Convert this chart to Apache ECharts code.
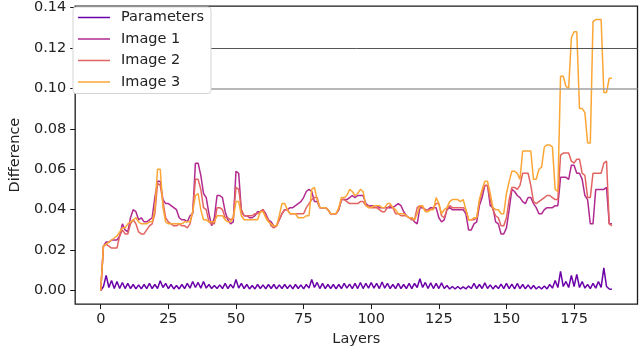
<!DOCTYPE html>
<html>

<head>
    <meta charset="utf-8">
    <script src="https://cdn.jsdelivr.net/npm/echarts@6/dist/echarts.min.js"></script>
    <style>
        body { margin: 0; background: #fff; }
    </style>
</head>

<body>
    <div id="main" style="width: 640px;height:352px;"></div>
    <script type="text/javascript">
        // series names and colours
        var names = ['Parameters', 'Image 1', 'Image 2', 'Image 3'];
        var colors = ['#6a00a8', '#b12a90', '#e16462', '#fca636'];

        // tick labels
        var xTicks = [0, 25, 50, 75, 100, 125, 150, 175];
        var yTicks = [0, 0.02, 0.04, 0.06, 0.08, 0.10, 0.12, 0.14];
        // grey reference lines
        var refLines = [0.12, 0.10];

        // one value per layer, layer 0 .. 189
        var params = [
            0, 0.002, 0.0075, 0.0015, 0.005, 0.001, 0.0045, 0.001, 0.004, 0.001,
            0.0035, 0.001, 0.003, 0.0008, 0.0028, 0.0008, 0.003, 0.001, 0.0035, 0.001,
            0.003, 0.001, 0.0048, 0.0015, 0.0035, 0.001, 0.003, 0.0008, 0.0025, 0.0008,
            0.003, 0.001, 0.0035, 0.0012, 0.0045, 0.0015, 0.004, 0.0012, 0.0045, 0.0012,
            0.003, 0.001, 0.0025, 0.001, 0.0028, 0.001, 0.0035, 0.001, 0.003, 0.0012,
            0.0055, 0.0012, 0.0035, 0.001, 0.003, 0.0008, 0.0025, 0.0008, 0.003, 0.001,
            0.0028, 0.0008, 0.003, 0.001, 0.003, 0.0008, 0.0028, 0.001, 0.003, 0.001,
            0.0028, 0.0008, 0.003, 0.001, 0.0028, 0.0008, 0.003, 0.0012, 0.0055, 0.0015,
            0.004, 0.001, 0.0035, 0.001, 0.003, 0.001, 0.003, 0.0008, 0.003, 0.001,
            0.0035, 0.0012, 0.0032, 0.001, 0.0035, 0.001, 0.004, 0.001, 0.0035, 0.0012,
            0.004, 0.0012, 0.0035, 0.001, 0.0042, 0.0012, 0.0035, 0.001, 0.003, 0.001,
            0.0035, 0.001, 0.003, 0.001, 0.0035, 0.001, 0.0035, 0.0015, 0.0058, 0.0015,
            0.004, 0.001, 0.0038, 0.001, 0.0035, 0.001, 0.0038, 0.001, 0.0025, 0.0008,
            0.002, 0.0008, 0.002, 0.0008, 0.0018, 0.0008, 0.0022, 0.001, 0.0035, 0.001,
            0.003, 0.001, 0.0038, 0.001, 0.0028, 0.0008, 0.0025, 0.001, 0.0032, 0.001,
            0.0035, 0.001, 0.0032, 0.0008, 0.0035, 0.001, 0.003, 0.0008, 0.0028, 0.0008,
            0.0025, 0.0008, 0.002, 0.0008, 0.0022, 0.0008, 0.003, 0.0012, 0.005, 0.0015,
            0.0095, 0.002, 0.0045, 0.0015, 0.0075, 0.002, 0.008, 0.0015, 0.0045, 0.0012,
            0.003, 0.001, 0.0035, 0.0012, 0.0045, 0.0015, 0.0112, 0.002, 0.0008, 0.0006
        ];

        var image1 = [
            0, 0.022, 0.024, 0.024, 0.025, 0.025, 0.025, 0.027, 0.033, 0.030,
            0.029, 0.036, 0.040, 0.039, 0.035, 0.036, 0.034, 0.034, 0.035, 0.036,
            0.046, 0.054, 0.054, 0.045, 0.043, 0.043, 0.042, 0.041, 0.040, 0.036,
            0.035, 0.035, 0.034, 0.037, 0.038, 0.063, 0.063, 0.057, 0.048, 0.046,
            0.038, 0.032, 0.036, 0.047, 0.047, 0.046, 0.039, 0.035, 0.033, 0.034,
            0.059, 0.058, 0.039, 0.037, 0.037, 0.036, 0.036, 0.037, 0.039, 0.039,
            0.040, 0.038, 0.035, 0.034, 0.032, 0.032, 0.035, 0.038, 0.040, 0.040,
            0.041, 0.041, 0.042, 0.043, 0.044, 0.046, 0.049, 0.050, 0.049, 0.044,
            0.044, 0.041, 0.041, 0.041, 0.040, 0.038, 0.038, 0.038, 0.040, 0.045,
            0.045, 0.045, 0.046, 0.047, 0.046, 0.047, 0.047, 0.047, 0.043, 0.042,
            0.042, 0.042, 0.042, 0.041, 0.041, 0.041, 0.041, 0.041, 0.041, 0.042,
            0.043, 0.042, 0.039, 0.037, 0.036, 0.036, 0.034, 0.033, 0.041, 0.041,
            0.040, 0.040, 0.041, 0.041, 0.041, 0.036, 0.034, 0.035, 0.040, 0.041,
            0.040, 0.040, 0.040, 0.040, 0.040, 0.038, 0.030, 0.030, 0.033, 0.034,
            0.042, 0.046, 0.052, 0.052, 0.042, 0.041, 0.034, 0.033, 0.028, 0.028,
            0.031, 0.040, 0.050, 0.049, 0.047, 0.046, 0.044, 0.043, 0.046, 0.046,
            0.043, 0.041, 0.038, 0.038, 0.040, 0.041, 0.041, 0.041, 0.042, 0.042,
            0.056, 0.056, 0.056, 0.055, 0.062, 0.062, 0.058, 0.058, 0.055, 0.047,
            0.045, 0.033, 0.033, 0.050, 0.050, 0.050, 0.050, 0.051, 0.033, 0.033
        ];

        var image2 = [
            0, 0.022, 0.023, 0.022, 0.021, 0.021, 0.021, 0.027, 0.030, 0.028,
            0.028, 0.033, 0.035, 0.033, 0.029, 0.028, 0.028, 0.030, 0.032, 0.033,
            0.038, 0.053, 0.052, 0.044, 0.036, 0.034, 0.033, 0.032, 0.032, 0.033,
            0.032, 0.032, 0.031, 0.033, 0.039, 0.055, 0.055, 0.050, 0.041, 0.040,
            0.034, 0.033, 0.033, 0.041, 0.041, 0.040, 0.036, 0.036, 0.035, 0.036,
            0.051, 0.050, 0.040, 0.037, 0.037, 0.037, 0.037, 0.038, 0.038, 0.039,
            0.040, 0.037, 0.035, 0.032, 0.031, 0.032, 0.035, 0.038, 0.040, 0.040,
            0.038, 0.038, 0.038, 0.038, 0.038, 0.038, 0.041, 0.043, 0.045, 0.046,
            0.046, 0.041, 0.041, 0.041, 0.040, 0.038, 0.038, 0.038, 0.040, 0.045,
            0.045, 0.044, 0.043, 0.043, 0.043, 0.043, 0.044, 0.044, 0.042, 0.042,
            0.041, 0.041, 0.041, 0.040, 0.039, 0.039, 0.041, 0.042, 0.041, 0.038,
            0.038, 0.037, 0.037, 0.037, 0.036, 0.035, 0.035, 0.041, 0.042, 0.041,
            0.040, 0.040, 0.040, 0.041, 0.043, 0.043, 0.037, 0.036, 0.040, 0.042,
            0.041, 0.041, 0.041, 0.041, 0.041, 0.040, 0.035, 0.035, 0.035, 0.036,
            0.044, 0.049, 0.052, 0.052, 0.045, 0.040, 0.037, 0.036, 0.032, 0.032,
            0.036, 0.045, 0.051, 0.051, 0.050, 0.052, 0.058, 0.058, 0.058, 0.052,
            0.044, 0.043, 0.044, 0.045, 0.046, 0.047, 0.047, 0.046, 0.045, 0.045,
            0.067, 0.068, 0.068, 0.068, 0.064, 0.063, 0.065, 0.065, 0.058, 0.057,
            0.046, 0.046, 0.058, 0.058, 0.058, 0.058, 0.063, 0.064, 0.033, 0.032
        ];

        var image3 = [
            0, 0.022, 0.023, 0.024, 0.025, 0.026, 0.027, 0.029, 0.031, 0.031,
            0.033, 0.034, 0.035, 0.036, 0.034, 0.033, 0.033, 0.033, 0.034, 0.034,
            0.040, 0.060, 0.060, 0.041, 0.034, 0.033, 0.033, 0.033, 0.033, 0.033,
            0.033, 0.034, 0.034, 0.034, 0.039, 0.047, 0.048, 0.040, 0.035, 0.035,
            0.034, 0.034, 0.034, 0.037, 0.037, 0.037, 0.035, 0.034, 0.034, 0.036,
            0.044, 0.044, 0.037, 0.035, 0.035, 0.035, 0.035, 0.035, 0.035, 0.039,
            0.039, 0.036, 0.034, 0.033, 0.032, 0.032, 0.037, 0.043, 0.043, 0.040,
            0.038, 0.038, 0.038, 0.036, 0.036, 0.036, 0.037, 0.037, 0.050, 0.051,
            0.045, 0.041, 0.041, 0.041, 0.040, 0.038, 0.038, 0.038, 0.041, 0.046,
            0.046, 0.047, 0.050, 0.049, 0.047, 0.048, 0.050, 0.049, 0.042, 0.041,
            0.041, 0.042, 0.042, 0.042, 0.041, 0.041, 0.043, 0.043, 0.041, 0.040,
            0.038, 0.038, 0.038, 0.037, 0.036, 0.036, 0.035, 0.038, 0.042, 0.042,
            0.039, 0.039, 0.040, 0.040, 0.046, 0.043, 0.038, 0.040, 0.041, 0.044,
            0.045, 0.045, 0.045, 0.044, 0.045, 0.040, 0.035, 0.035, 0.036, 0.036,
            0.045, 0.050, 0.054, 0.054, 0.048, 0.041, 0.040, 0.040, 0.038, 0.038,
            0.048, 0.054, 0.059, 0.059, 0.058, 0.055, 0.069, 0.069, 0.069, 0.069,
            0.055, 0.055, 0.060, 0.061, 0.071, 0.072, 0.072, 0.071, 0.050, 0.049,
            0.106, 0.106, 0.101, 0.100, 0.125, 0.128, 0.128, 0.090, 0.090, 0.088,
            0.073, 0.073, 0.133, 0.134, 0.134, 0.134, 0.098, 0.098, 0.105, 0.105
        ];

        var seriesValues = [params, image1, image2, image3];

        var font = 'DejaVu Sans';
        var myChart = echarts.init(document.getElementById('main'));

        var series = seriesValues.map(function (vals, k) {
            var s = {
                name: names[k],
                type: 'line',
                symbol: 'none',
                color: colors[k],
                itemStyle: { color: colors[k] },
                lineStyle: { width: 1.5, color: colors[k] },
                data: vals.map(function (v, i) { return [i, v]; })
            };
            if (k === 0) {
                s.markLine = {
                    silent: true,
                    symbol: 'none',
                    label: { show: false },
                    data: refLines.map(function (y, j) {
                        return {
                            yAxis: y,
                            lineStyle: {
                                type: 'solid',
                                color: j === 0 ? '#555555' : '#a0a0a0',
                                width: j === 0 ? 1 : 1.6
                            }
                        };
                    })
                };
            }
            return s;
        });

        myChart.setOption({
            animation: false,
            textStyle: { fontFamily: font },
            grid: {
                left: 65.5,
                right: 2.5,
                top: 1.5,
                bottom: 44,
                show: true,
                borderColor: '#1a1a1a',
                borderWidth: 1.3,
                backgroundColor: 'transparent'
            },
            legend: {
                orient: 'vertical',
                left: 73,
                top: 7,
                z: 10,
                padding: [3, 7, 4, 5],
                itemWidth: 32,
                itemHeight: 14,
                itemGap: 6.5,
                symbolKeepAspect: true,
                backgroundColor: '#ffffff',
                borderColor: '#d4d4d4',
                borderWidth: 1,
                borderRadius: 3,
                textStyle: {
                    fontFamily: font,
                    fontSize: 14.5,
                    color: '#222',
                    padding: [0, 0, 0, 6]
                },
                data: names.map(function (n) {
                    return { name: n, icon: 'path://M0,0 L32,0 L32,1.5 L0,1.5 Z' };
                })
            },
            xAxis: {
                type: 'value',
                min: -9.45,
                max: 198.45,
                name: 'Layers',
                nameLocation: 'middle',
                nameGap: 25,
                nameTextStyle: { fontFamily: font, fontSize: 14.5, color: '#222' },
                axisLine: { show: false, onZero: false },
                axisTick: { show: true, length: 5, customValues: xTicks, lineStyle: { color: '#1a1a1a' } },
                axisLabel: {
                    customValues: xTicks,
                    margin: 8,
                    fontFamily: font,
                    fontSize: 14.5,
                    color: '#222'
                },
                splitLine: { show: false }
            },
            yAxis: {
                type: 'value',
                min: -0.0067,
                max: 0.1407,
                name: 'Difference',
                nameLocation: 'middle',
                nameGap: 50,
                nameTextStyle: { fontFamily: font, fontSize: 14.5, color: '#222' },
                axisLine: { show: false, onZero: false },
                axisTick: { show: true, length: 5, customValues: yTicks, lineStyle: { color: '#1a1a1a' } },
                axisLabel: {
                    customValues: yTicks,
                    margin: 9,
                    fontFamily: font,
                    fontSize: 14.5,
                    color: '#222',
                    formatter: function (v) { return v.toFixed(2); }
                },
                splitLine: { show: false }
            },
            series: series
        });
    </script>
</body>

</html>
